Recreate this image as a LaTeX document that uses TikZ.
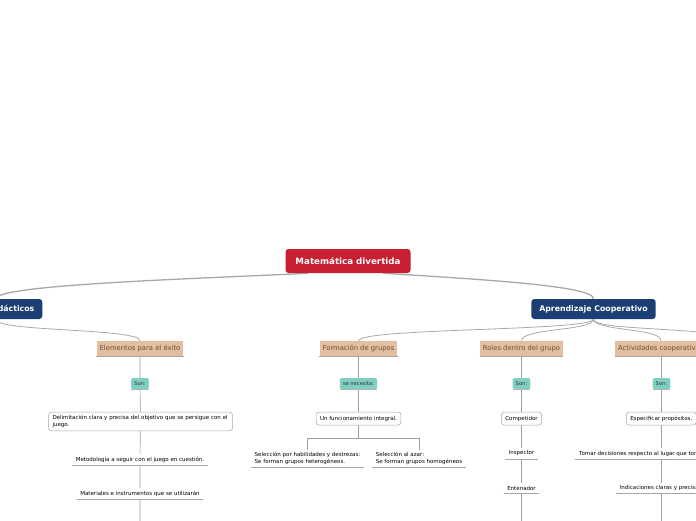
\documentclass[tikz,border=0pt]{standalone}
\usepackage{fontspec}
\setmainfont{DejaVu Sans}
\usetikzlibrary{positioning,backgrounds}
\definecolor{mmred}{HTML}{C81F32}
\definecolor{mmblue}{HTML}{1B3F74}
\definecolor{mmtan}{HTML}{E3BF9F}
\definecolor{mmbrown}{HTML}{6A4D3A}
\definecolor{mmteal}{HTML}{7FCFC2}
\definecolor{mmgray}{HTML}{A8A8A8}

\begin{document}
\begin{tikzpicture}[x=1pt, y=-1pt,
        root/.style={fill=mmred, rounded corners=3pt, text=white, font=\fontsize{8.7}{10}\selectfont\bfseries, minimum height=24pt, minimum width=125pt},
        main/.style={fill=mmblue, rounded corners=3pt, text=white, font=\fontsize{7.8}{9}\selectfont\bfseries, minimum height=20pt, inner xsep=8pt},
        sub/.style={fill=mmtan, text=mmbrown, font=\fontsize{6.8}{8}\selectfont, minimum height=15pt, inner xsep=3pt,
            append after command={(\tikzlastnode.south west) edge[draw=gray!70, line width=0.6pt] (\tikzlastnode.south east)}},
        son/.style={fill=mmteal, rounded corners=1.5pt, text=black!80, font=\fontsize{5.2}{6}\selectfont, minimum height=11pt, inner xsep=3pt,
            append after command={(\tikzlastnode.south west) edge[draw=gray!60, line width=0.5pt] (\tikzlastnode.south east)}},
        leaf/.style={draw=gray!70, line width=0.5pt, rounded corners=3pt, fill=white, font=\fontsize{5.5}{6.5}\selectfont, minimum height=13pt, inner xsep=4pt, align=left},
        topic/.style={font=\fontsize{5.5}{6.5}\selectfont, inner xsep=3.5pt, inner ysep=2.5pt, align=left,
            append after command={(\tikzlastnode.south west) edge[draw=gray!70, line width=0.5pt] (\tikzlastnode.south east)}},
        link/.style={draw=mmgray, line width=1.3pt},
        branch/.style={draw=mmgray, line width=0.8pt},
        stem/.style={draw=gray!75, line width=0.6pt}
    ]
        \useasboundingbox (0,0) rectangle (696,520);
        \clip (0,0) rectangle (696,520);

        % Root and main topics
        \node[root] (root) at (348,261) {Matemática divertida};
        \node[main, anchor=east] (juegos) at (42.5,309) {Juegos didácticos};
        \node[main] (coop) at (593.5,309) {Aprendizaje Cooperativo};

        % Subtopics
        \node[sub] (exito) at (140,348.5) {Elementos para el éxito};
        \node[sub] (grupos) at (358.5,348.5) {Formación de grupos};
        \node[sub] (roles) at (521.5,348.5) {Roles dentro del grupo};
        \node[sub, anchor=west] (activ) at (615,348.5) {Actividades cooperativas};
        \coordinate (offright) at (760,341);

        % Elementos para el exito
        \node[son] (son1) at (140,383.5) {Son:};
        \node[leaf, text width=176pt] (delim) at (140.5,421.5) {Delimitación clara y precisa del objetivo que se persigue con el juego.};
        \node[topic] (metod) at (140,459.5) {Metodología a seguir con el juego en cuestión.};
        \node[topic] (mater) at (140,493.5) {Materiales e instrumentos que se utilizarán};
        \coordinate (exitoend) at (140,530);

        % Formacion de grupos
        \node[son] (son2) at (358.5,383.5) {se necesita:};
        \node[leaf] (integral) at (358.5,418.5) {Un funcionamiento integral.};
        \node[topic] (habil) at (307.5,458.5) {Selección por habilidades y destrezas:\\Se forman grupos heterogéneos.};
        \node[topic] (azar) at (419,458.5) {Selección al azar:\\Se forman grupos homogéneos};

        % Roles dentro del grupo
        \node[son] (son3) at (521.5,383.5) {Son:};
        \node[leaf] (compet) at (521.5,418.5) {Competidor};
        \node[topic] (inspec) at (521.5,453.5) {Inspector};
        \node[topic] (entren) at (521.5,488) {Entenador};
        \coordinate (rolesend) at (521.5,530);

        % Actividades cooperativas
        \node[son] (son4) at (661.5,383.5) {Son:};
        \node[leaf, anchor=west] (propos) at (626,418.5) {Especificar propósitos.};
        \node[topic] (lugar) at (661.5,453.5) {Tomar decisiones respecto al lugar que tomarán los grupos.};
        \node[topic] (indic) at (661.5,488) {Indicaciones claras y precisas.};
        \coordinate (activend) at (661.5,530);

        % Connectors
        \begin{scope}[on background layer]
            \draw[link] ([xshift=-40pt]root.south) .. controls (220,278) and (-5,284) .. (juegos.north);
            \draw[link] ([xshift=35pt]root.south) .. controls (490,280) and (593.5,286) .. (coop.north);
            \draw[branch] (juegos.south) .. controls (-5,332) and (140,328) .. (exito.north);
            \draw[branch] (coop.south) .. controls (593.5,331) and (358.5,328) .. (grupos.north);
            \draw[branch] (coop.south) .. controls (593.5,331) and (521.5,328) .. (roles.north);
            \draw[branch] (coop.south) .. controls (593.5,331) and (662,328) .. (activ.north);
            \draw[branch] (coop.south) .. controls (593.5,331) and (700,326) .. (offright);

            \draw[stem] (exito) -- (son1) -- (delim) -- (metod) -- (mater) -- (exitoend);
            \draw[stem] (grupos) -- (son2) -- (integral);
            \draw[stem] (integral.south) -- ++(0,13) coordinate (fork) -| (habil.north);
            \draw[stem] (fork) -| (azar.north);
            \draw[stem] (roles) -- (son3) -- (compet) -- (inspec) -- (entren) -- (rolesend);
            \draw[stem] (activ.south -| son4) -- (son4) -- (propos.south -| son4) -- (lugar) -- (indic) -- (activend);
            \draw[stem] (son4) -- (son4 |- propos.north);
        \end{scope}
    \end{tikzpicture}
\end{document}
